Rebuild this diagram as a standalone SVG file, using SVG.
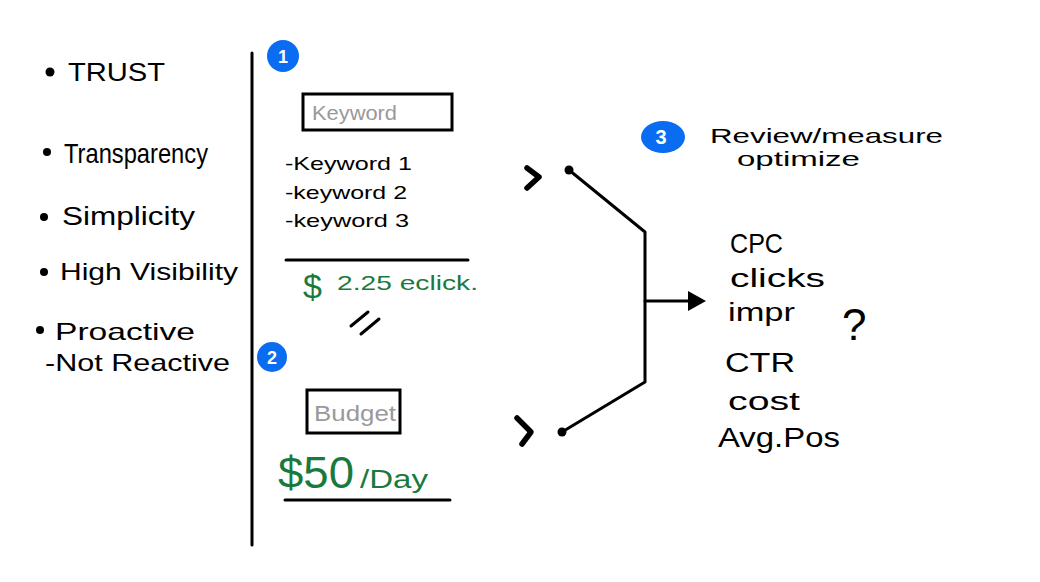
<svg xmlns="http://www.w3.org/2000/svg" width="1040" height="582" viewBox="0 0 1040 582">
<style>
.t{font-family:"Liberation Sans",Arial,sans-serif;fill:#000}
.g{font-family:"Liberation Sans",Arial,sans-serif;fill:#1a7a3e}
.gr{font-family:"Liberation Sans",Arial,sans-serif;fill:#999}
.w{font-family:"Liberation Sans",Arial,sans-serif;fill:#fff;font-weight:bold;text-anchor:middle}
.ln{stroke:#000;stroke-width:3;fill:none;stroke-linecap:round;stroke-linejoin:round}
.ch{stroke:#000;stroke-width:5.5;fill:none;stroke-linecap:round;stroke-linejoin:round}
.bx{stroke:#000;stroke-width:3;fill:#fff}
.badge{fill:#0a6cf0}
</style>
<defs>
<marker id="ah" markerWidth="20" markerHeight="22" refX="4" refY="11" orient="auto" markerUnits="userSpaceOnUse">
<path d="M0,1 L18,11 L0,21 Z" fill="#000"/>
</marker>
</defs>
<rect width="1040" height="582" fill="#fff"/>
<g id="values">
<circle cx="50" cy="72" r="4.5"/>
<text class="t" x="68" y="81" font-size="26" textLength="97" lengthAdjust="spacingAndGlyphs">TRUST</text>
<circle cx="47" cy="152" r="4"/>
<text class="t" x="64" y="163" font-size="28" textLength="144" lengthAdjust="spacingAndGlyphs">Transparency</text>
<circle cx="44" cy="217" r="4"/>
<text class="t" x="62" y="225" font-size="26" textLength="133" lengthAdjust="spacingAndGlyphs">Simplicity</text>
<circle cx="44" cy="272" r="4"/>
<text class="t" x="60" y="280" font-size="24" textLength="178" lengthAdjust="spacingAndGlyphs">High Visibility</text>
<circle cx="40" cy="330" r="4"/>
<text class="t" x="55" y="340" font-size="24" textLength="140" lengthAdjust="spacingAndGlyphs">Proactive</text>
<text class="t" x="45" y="371" font-size="24" textLength="185" lengthAdjust="spacingAndGlyphs">-Not Reactive</text>
</g>
<g id="divider">
<line class="ln" x1="252" y1="53" x2="252" y2="545"/>
</g>
<g id="step1">
<circle class="badge" cx="283" cy="56" r="16"/>
<text class="w" x="283" y="63" font-size="18">1</text>
<rect class="bx" x="303" y="94" width="149" height="36"/>
<text class="gr" x="312" y="120" font-size="21" textLength="85" lengthAdjust="spacingAndGlyphs">Keyword</text>
<text class="t" x="285" y="170" font-size="19" textLength="127" lengthAdjust="spacingAndGlyphs">-Keyword 1</text>
<text class="t" x="285" y="199" font-size="19" textLength="122" lengthAdjust="spacingAndGlyphs">-keyword 2</text>
<text class="t" x="285" y="227" font-size="19" textLength="124" lengthAdjust="spacingAndGlyphs">-keyword 3</text>
<line class="ln" x1="286" y1="260" x2="468" y2="260"/>
<text class="g" x="303" y="298" font-size="34">$</text>
<text class="g" x="337" y="290" font-size="21" textLength="141" lengthAdjust="spacingAndGlyphs">2.25 eclick.</text>
<line class="ln" x1="351" y1="326" x2="368" y2="312" stroke-width="4.5"/>
<line class="ln" x1="361" y1="334" x2="379" y2="319" stroke-width="4.5"/>
</g>
<g id="step2">
<circle class="badge" cx="272" cy="357" r="15"/>
<text class="w" x="272" y="364" font-size="18">2</text>
<rect class="bx" x="307" y="390" width="93" height="43"/>
<text class="gr" x="314" y="421" font-size="22" textLength="82" lengthAdjust="spacingAndGlyphs">Budget</text>
<text class="g" x="278" y="488" font-size="44" textLength="76" lengthAdjust="spacingAndGlyphs">$50</text>
<text class="g" x="360" y="488" font-size="26" textLength="68" lengthAdjust="spacingAndGlyphs">/Day</text>
<line class="ln" x1="285" y1="500" x2="450" y2="500"/>
</g>
<g id="step3">
<ellipse class="badge" cx="663" cy="137" rx="22" ry="16"/>
<text class="w" x="661" y="144" font-size="20">3</text>
<text class="t" x="710" y="143" font-size="21" textLength="233" lengthAdjust="spacingAndGlyphs">Review/measure</text>
<text class="t" x="737" y="166" font-size="21" textLength="123" lengthAdjust="spacingAndGlyphs">optimize</text>
</g>
<g id="metrics">
<text class="t" x="730" y="253" font-size="28" textLength="53" lengthAdjust="spacingAndGlyphs">CPC</text>
<text class="t" x="730" y="287" font-size="25" textLength="95" lengthAdjust="spacingAndGlyphs">clicks</text>
<text class="t" x="728" y="321" font-size="25" textLength="67" lengthAdjust="spacingAndGlyphs">impr</text>
<text class="t" x="725" y="372" font-size="27" textLength="70" lengthAdjust="spacingAndGlyphs">CTR</text>
<text class="t" x="728" y="410" font-size="25" textLength="72" lengthAdjust="spacingAndGlyphs">cost</text>
<text class="t" x="718" y="447" font-size="27" textLength="122" lengthAdjust="spacingAndGlyphs">Avg.Pos</text>
<text class="t" x="842" y="340" font-size="44">?</text>
</g>
<g id="connectors">
<path class="ch" d="M527,168 L539,177 L527,188"/>
<circle cx="569" cy="170" r="4.5"/>
<path class="ln" d="M569,170 L645,232 L645,382 L562,432"/>
<circle cx="562" cy="432" r="4.5"/>
<path class="ch" d="M517,418 L531,432 L522,444"/>
<line class="ln" x1="645" y1="301" x2="692" y2="301" marker-end="url(#ah)"/>
</g>
</svg>
